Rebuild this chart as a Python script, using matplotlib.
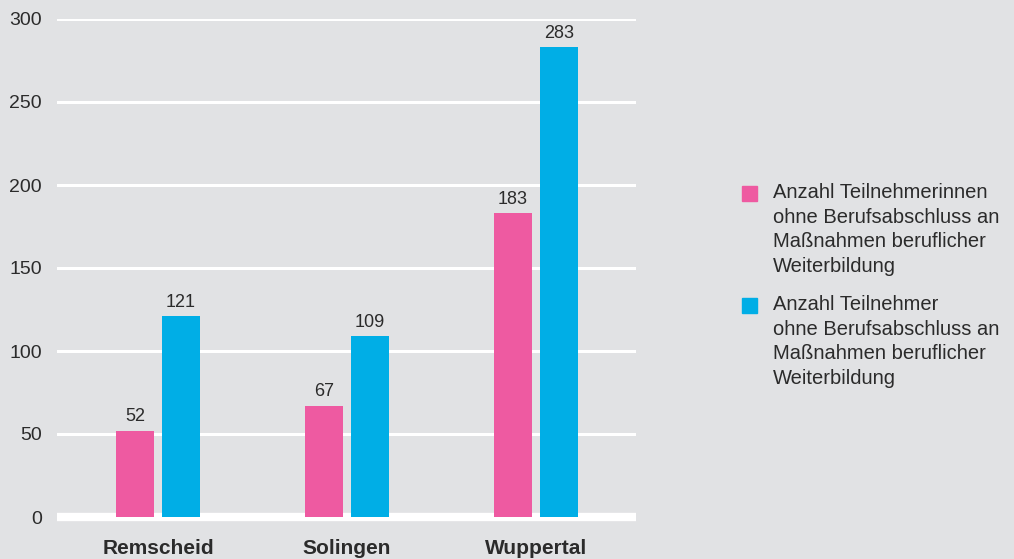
import numpy as np
import matplotlib.pyplot as plt
from matplotlib.patches import Rectangle

# Data
cities = ["Remscheid", "Solingen", "Wuppertal"]
frauen = [52, 67, 183]
maenner = [121, 109, 283]
series_labels = [
    "Anzahl Teilnehmerinnen\nohne Berufsabschluss an\nMaßnahmen beruflicher\nWeiterbildung",
    "Anzahl Teilnehmer\nohne Berufsabschluss an\nMaßnahmen beruflicher\nWeiterbildung",
]
yticks = [0, 50, 100, 150, 200, 250, 300]

pink = "#ee5aa1"
cyan = "#00aee6"
bg = "#e1e2e4"
txt = "#2b2b2b"

plt.rcParams['font.family'] = ['Liberation Sans', 'DejaVu Sans']

W, H = 1014, 559
fig = plt.figure(figsize=(W / 100, H / 100), dpi=100)
fig.patch.set_facecolor(bg)
ax = fig.add_axes([57 / W, 42 / H, 579 / W, 498 / H])
ax.set_facecolor(bg)

x = np.arange(len(cities))
w = 0.201
off = 0.1217

b1 = ax.bar(x - off, frauen, w, color=pink, zorder=3)
b2 = ax.bar(x + off, maenner, w, color=cyan, zorder=3)

for rects, vals in ((b1, frauen), (b2, maenner)):
    for r, v in zip(rects, vals):
        ax.annotate(str(v), (r.get_x() + r.get_width() / 2, v),
                    xytext=(0, 4), textcoords="offset points",
                    ha="center", va="bottom", fontsize=13, color=txt)

# grid
for yv in yticks[1:]:
    ax.axhline(yv, color="white", lw=2.2, zorder=1)
ax.axhline(0, color="white", lw=6, zorder=2, clip_on=False,
           solid_capstyle="butt")

ax.set_xlim(-0.534, 2.529)
ax.set_ylim(0, 300)
ax.set_yticks(yticks)
ax.set_yticklabels([str(v) for v in yticks], fontsize=14, color=txt)
ax.set_xticks(x)
ax.set_xticklabels(cities, fontsize=15, fontweight="bold", color=txt)
ax.tick_params(axis="both", length=0)
ax.tick_params(axis="y", pad=11)
ax.tick_params(axis="x", pad=16)
for s in ax.spines.values():
    s.set_visible(False)

# legend drawn by hand: square aligned with first text line
legend_colors = [pink, cyan]
legend_base = [201, 313]  # pixel y of first baseline
for col, lab, yb in zip(legend_colors, series_labels, legend_base):
    fig.patches.append(Rectangle((742 / W, 1 - yb / H), 15 / W, 15 / H,
                                 transform=fig.transFigure, color=col))
    fig.text(773 / W, 1 - (yb - 18) / H, lab, ha="left", va="top",
             fontsize=14.5, color=txt, linespacing=1.38)

plt.savefig("out.png", dpi=100, facecolor=bg)
